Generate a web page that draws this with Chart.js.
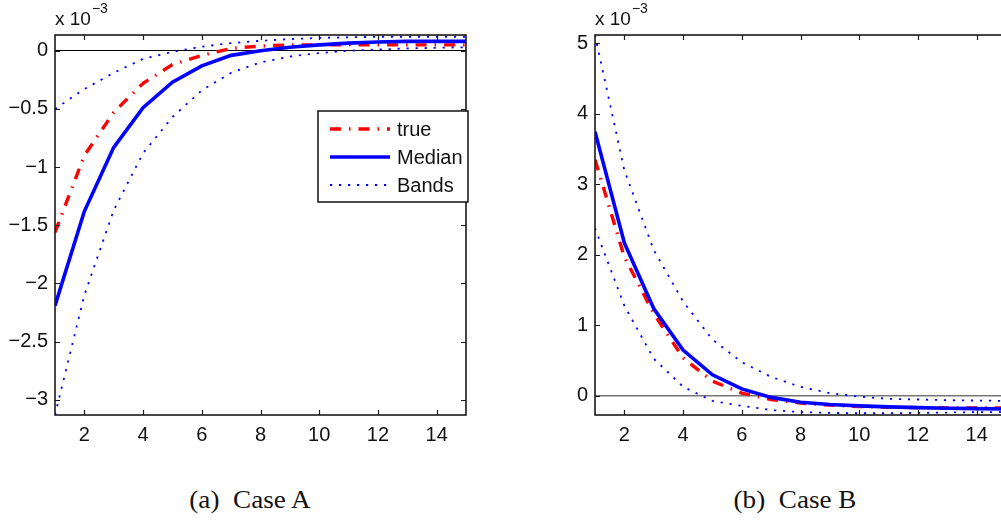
<!DOCTYPE html>
<html><head><meta charset="utf-8">
<script src="https://cdn.jsdelivr.net/npm/chart.js@4/dist/chart.umd.min.js"></script>
<style>
html,body{margin:0;padding:0;background:#fff;overflow:hidden;width:1001px;height:522px;position:relative;}
.wrap{position:absolute;top:0;width:480px;height:470px;}
.cap{position:absolute;top:487px;font-family:"Liberation Serif","Times New Roman",serif;font-size:23px;color:#111;transform:translateX(-50%) scale(1.18,1.08);white-space:pre;}
</style></head><body>
<div class="wrap" style="left:0"><canvas id="cA" width="480" height="470"></canvas></div>
<div class="wrap" style="left:540px"><canvas id="cB" width="480" height="470"></canvas></div>
<div class="cap" style="left:250px">(a)  Case A</div>
<div class="cap" style="left:795px">(b)  Case B</div>
<script>
// ---- data (values in units of 10^-3) ----
const horizon = [1,2,3,4,5,6,7,8,9,10,11,12,13,14,15];
const xTicks = [2,4,6,8,10,12,14];

const trueA   = [-1.56,-0.90,-0.53,-0.28,-0.12,-0.04,0.02,0.04,0.05,0.05,0.05,0.05,0.05,0.05,0.05];
const medianA = [-2.19,-1.38,-0.83,-0.49,-0.27,-0.13,-0.04,0.00,0.03,0.05,0.065,0.075,0.08,0.08,0.08];
const upperA  = [-0.50,-0.33,-0.19,-0.07,-0.01,0.035,0.065,0.085,0.10,0.11,0.115,0.12,0.12,0.12,0.12];
const lowerA  = [-3.13,-2.10,-1.37,-0.88,-0.57,-0.34,-0.19,-0.10,-0.05,-0.02,0.00,0.01,0.02,0.025,0.03];
const yTicksA = [-3,-2.5,-2,-1.5,-1,-0.5,0];

const trueB   = [3.35,1.97,1.17,0.54,0.21,0.04,-0.05,-0.10,-0.13,-0.15,-0.16,-0.165,-0.17,-0.17,-0.17];
const medianB = [3.75,2.17,1.24,0.65,0.30,0.10,-0.02,-0.09,-0.12,-0.14,-0.155,-0.165,-0.175,-0.18,-0.185];
const upperB  = [5.12,3.20,2.07,1.34,0.80,0.48,0.27,0.13,0.04,-0.01,-0.04,-0.05,-0.06,-0.065,-0.07];
const lowerB  = [2.38,1.28,0.53,0.13,-0.07,-0.14,-0.20,-0.23,-0.24,-0.245,-0.245,-0.24,-0.235,-0.23,-0.23];
const yTicksB = [0,1,2,3,4,5];

const legendLabels = ['true','Median','Bands'];

const SANS = '"Liberation Sans", Arial, Helvetica, sans-serif';
const toXY = arr => arr.map((v,i)=>({x:horizon[i], y:v}));

function makeDatasets(tr, med, up, lo){
  return [
    {label:legendLabels[0], data:toXY(tr), borderColor:'#ff0000', borderWidth:3.4, borderDash:[11,8,1.5,8], order:3, inLegend:true},
    {label:legendLabels[1], data:toXY(med), borderColor:'#0000ff', borderWidth:3.6, order:2, inLegend:true},
    {label:legendLabels[2], data:toXY(up), borderColor:'#0000ff', borderWidth:1.8, borderDash:[2.2,6.8], order:1, inLegend:true},
    {label:legendLabels[2], data:toXY(lo), borderColor:'#0000ff', borderWidth:1.8, borderDash:[2.2,6.8], order:1, inLegend:false}
  ].map(d=>Object.assign(d,{pointRadius:0, tension:0, fill:false, borderCapStyle:'butt'}));
}

const framePlugin = {
  id:'frame',
  afterDraw(chart, args, opts){
    const {ctx, chartArea:{left,right,top,bottom}} = chart;
    const xs = chart.scales.x, ys = chart.scales.y;
    ctx.save();
    ctx.strokeStyle = '#1a1a1a';
    ctx.lineWidth = 1.6;
    ctx.strokeRect(left, top, right-left, bottom-top);
    ctx.lineWidth = 1.2;
    ctx.beginPath();
    const TL = 5;
    xs.ticks.forEach(t=>{
      const px = Math.round(xs.getPixelForValue(t.value))+0.5;
      ctx.moveTo(px,bottom); ctx.lineTo(px,bottom-TL);
      ctx.moveTo(px,top); ctx.lineTo(px,top+TL);
    });
    ys.ticks.forEach(t=>{
      const py = Math.round(ys.getPixelForValue(t.value))+0.5;
      ctx.moveTo(left,py); ctx.lineTo(left+TL,py);
      ctx.moveTo(right,py); ctx.lineTo(right-TL,py);
    });
    ctx.stroke();
    // exponent label
    ctx.fillStyle = '#111';
    ctx.textBaseline = 'alphabetic';
    ctx.textAlign = 'left';
    ctx.font = '19px ' + SANS;
    ctx.fillText('x 10', left, 25);
    const w = ctx.measureText('x 10').width;
    ctx.font = '14px ' + SANS;
    ctx.fillText('\u22123', left + w + 1, 13);
    // legend
    if (opts.legend){
      const L = opts.legend;
      ctx.fillStyle = '#fff';
      ctx.fillRect(L.x1, L.y1, L.x2-L.x1, L.y2-L.y1);
      ctx.strokeStyle = '#111'; ctx.lineWidth = 1.5;
      ctx.strokeRect(L.x1, L.y1, L.x2-L.x1, L.y2-L.y1);
      const items = chart.data.datasets.filter(d=>d.inLegend);
      items.forEach((d,i)=>{
        const y = L.rows[i];
        ctx.save();
        ctx.strokeStyle = d.borderColor;
        ctx.lineWidth = d.borderWidth;
        ctx.setLineDash(d.borderDash || []);
        ctx.beginPath(); ctx.moveTo(L.lx1, y); ctx.lineTo(L.lx2, y); ctx.stroke();
        ctx.restore();
        ctx.fillStyle = '#111';
        ctx.font = '20px ' + SANS;
        ctx.textBaseline = 'middle';
        ctx.fillText(d.label, L.tx, y+1);
      });
    }
    ctx.restore();
  }
};

function makeChart(id, datasets, yMin, yMax, yTicks, zeroColor, zeroWidth, legend){
  return new Chart(document.getElementById(id), {
    type:'line',
    data:{datasets},
    options:{
      responsive:false, animation:false, devicePixelRatio:1,
      layout:{padding:{top:35, right:14, left:0, bottom:0}},
      plugins:{legend:{display:false}, tooltip:{enabled:false}, frame:{legend}},
      scales:{
        x:{type:'linear', min:1, max:15,
           afterBuildTicks:s=>{s.ticks = xTicks.map(v=>({value:v}));},
           afterFit:s=>{s.height = 55;},
           ticks:{color:'#111', font:{size:20, family:SANS}, padding:8, maxRotation:0, autoSkip:false,
                  callback:v=>String(v)},
           grid:{display:false, drawTicks:false}, border:{display:false}},
        y:{type:'linear', min:yMin, max:yMax,
           afterBuildTicks:s=>{s.ticks = yTicks.map(v=>({value:v}));},
           afterFit:s=>{s.width = 55;},
           ticks:{color:'#111', font:{size:20, family:SANS}, padding:7, autoSkip:false,
                  callback:v=> v<0 ? '\u2212'+String(-v) : String(v)},
           grid:{drawTicks:false, lineWidth:zeroWidth,
                 color:c=> (c.tick && c.tick.value===0) ? zeroColor : 'rgba(0,0,0,0)'},
           border:{display:false}}
      }
    },
    plugins:[framePlugin]
  });
}

makeChart('cA', makeDatasets(trueA, medianA, upperA, lowerA), -3.13, 0.135, yTicksA, '#000', 1,
  {x1:318, y1:111, x2:468, y2:202, rows:[129,157,185], lx1:330, lx2:390, tx:397});
makeChart('cB', makeDatasets(trueB, medianB, upperB, lowerB), -0.27, 5.12, yTicksB, '#777', 1.6, null);
</script>
</body></html>
